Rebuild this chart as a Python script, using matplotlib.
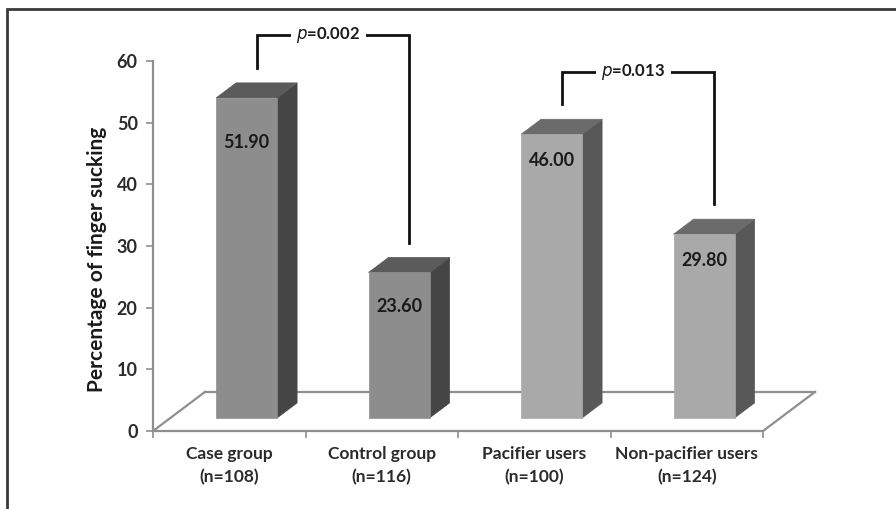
import matplotlib
matplotlib.use("Agg")
import matplotlib.pyplot as plt
from matplotlib.patches import Polygon, Rectangle

plt.rcParams['font.family'] = ['Lato', 'DejaVu Sans']

# ---- data ----
categories = ["Case group\n(n=108)", "Control group\n(n=116)",
              "Pacifier users\n(n=100)", "Non-pacifier users\n(n=124)"]
values = [51.90, 23.60, 46.00, 29.80]
value_labels = ["51.90", "23.60", "46.00", "29.80"]
comparisons = [(0, 1, "0.002"), (2, 3, "0.013")]
yticks = [0, 10, 20, 30, 40, 50, 60]

# ---- styling ----
front_cols = ["#8d8d8d", "#8d8d8d", "#a9a9a9", "#a9a9a9"]
top_cols = ["#5b5b5b", "#5b5b5b", "#6b6b6b", "#6b6b6b"]
side_cols = ["#454545", "#454545", "#585858", "#585858"]
label_drop = [7.2, 5.5, 4.2, 4.2]   # label distance below bar top
bar_w = 0.40
depth_dx, depth_dy = 0.341, 6.34    # floor depth in data units
f_front, f_back = 0.333, 0.718       # bar depth range (fraction of floor depth)
gray = "#8f8f8f"
txt = "#2b2b2b"

W, H = 896, 509
fig = plt.figure(figsize=(W / 100, H / 100), dpi=100)
ax = fig.add_axes([153 / W, 1 - 431 / H, 610 / W, 370 / H])
ax.set_xlim(0, 4)
ax.set_ylim(0, 60)

for s in ["top", "right"]:
    ax.spines[s].set_visible(False)
for s in ["left", "bottom"]:
    ax.spines[s].set_color(gray)
    ax.spines[s].set_linewidth(1.6)

ax.set_yticks(yticks)
ax.set_yticklabels([str(t) for t in yticks], fontsize=13, fontweight="bold", color=txt)
ax.tick_params(axis="y", length=5, width=1.2, color=gray, pad=6)
ax.set_xticks(range(5))
ax.set_xticklabels([])
ax.tick_params(axis="x", which="major", length=5, width=1.2, color=gray)
ax.set_xticks([i + 0.5 for i in range(4)], minor=True)
ax.set_xticklabels(categories, minor=True, fontsize=12.5, fontweight="bold",
                   color=txt, linespacing=1.5)
ax.tick_params(axis="x", which="minor", length=0, pad=11)

ax.set_ylabel("Percentage of finger sucking", fontsize=15, fontweight="bold", color="#1a1a1a")
ax.yaxis.set_label_coords(-0.075, 0.465)

# floor outline
floor_kw = dict(color=gray, lw=1.6, clip_on=False, zorder=1)
ax.plot([0, depth_dx], [0, depth_dy], **floor_kw)
ax.plot([depth_dx, 4 + depth_dx], [depth_dy, depth_dy], **floor_kw)
ax.plot([4, 4 + depth_dx], [0, depth_dy], **floor_kw)

# 3D bars
ox0, oy0 = f_front * depth_dx, f_front * depth_dy
ox1, oy1 = f_back * depth_dx, f_back * depth_dy
tops = []
for i, v in enumerate(values):
    c = i + 0.5
    xl, xr = c - bar_w / 2, c + bar_w / 2
    front = [(xl + ox0, oy0), (xr + ox0, oy0), (xr + ox0, v + oy0), (xl + ox0, v + oy0)]
    top = [(xl + ox0, v + oy0), (xr + ox0, v + oy0), (xr + ox1, v + oy1), (xl + ox1, v + oy1)]
    side = [(xr + ox0, oy0), (xr + ox1, oy1), (xr + ox1, v + oy1), (xr + ox0, v + oy0)]
    for poly, col in ((side, side_cols[i]), (top, top_cols[i]), (front, front_cols[i])):
        ax.add_patch(Polygon(poly, closed=True, facecolor=col, edgecolor=col,
                             lw=0.5, clip_on=False, zorder=3))
    ax.text(c + ox0, v + oy0 - label_drop[i], value_labels[i], ha="center", va="center",
            fontsize=13, fontweight="bold", color="#1a1a1a", zorder=4)
    tops.append((c + (ox0 + ox1) / 2, v + oy1))

# significance brackets
gap, rise = 2.4, 5.3
for a, b, p in comparisons:
    xa, ya = tops[a]
    xb, yb = tops[b]
    ya += gap
    yb += gap
    yt = max(ya, yb) + rise
    ax.plot([xa, xa, xb, xb], [ya, yt, yt, yb], color="#111111", lw=2,
            clip_on=False, zorder=5, solid_joinstyle="miter")
    ax.text((xa + xb) / 2 - 0.03, yt, r"$\it{p}$" + "=" + p, ha="center", va="center",
            fontsize=12, fontweight="bold", color="#1a1a1a", zorder=6,
            bbox=dict(facecolor="white", edgecolor="none", pad=4))

# figure frame
fig.patches.append(Rectangle((7 / W, -0.2), 1.3, 1.2 - 9 / H, transform=fig.transFigure,
                             fill=False, edgecolor="#3a3a3a", lw=2))

fig.savefig("out.png", dpi=100)
